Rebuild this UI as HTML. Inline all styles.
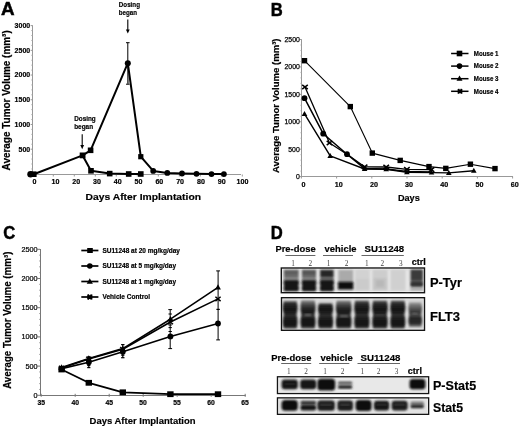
<!DOCTYPE html>
<html><head><meta charset="utf-8"><style>
html,body{margin:0;padding:0;background:#fff;}
svg{display:block;filter:grayscale(100%);}
text{font-family:"Liberation Sans",sans-serif;}
</style></head><body>
<svg width="520" height="428" viewBox="0 0 520 428">
<rect width="520" height="428" fill="#fff"/>
<text x="1.00" y="15.40" font-size="18.8" font-weight="bold" text-anchor="start" fill="#000" textLength="13.60" lengthAdjust="spacingAndGlyphs" stroke="#000" stroke-width="0.5">A</text>
<line x1="32.50" y1="25.20" x2="32.50" y2="175.00" stroke="#999" stroke-width="1" />
<line x1="31.20" y1="168.96" x2="32.50" y2="168.96" stroke="#aaa" stroke-width="0.8" />
<line x1="31.20" y1="164.01" x2="32.50" y2="164.01" stroke="#aaa" stroke-width="0.8" />
<line x1="31.20" y1="159.07" x2="32.50" y2="159.07" stroke="#aaa" stroke-width="0.8" />
<line x1="31.20" y1="154.13" x2="32.50" y2="154.13" stroke="#aaa" stroke-width="0.8" />
<line x1="31.20" y1="144.24" x2="32.50" y2="144.24" stroke="#aaa" stroke-width="0.8" />
<line x1="31.20" y1="139.30" x2="32.50" y2="139.30" stroke="#aaa" stroke-width="0.8" />
<line x1="31.20" y1="134.36" x2="32.50" y2="134.36" stroke="#aaa" stroke-width="0.8" />
<line x1="31.20" y1="129.41" x2="32.50" y2="129.41" stroke="#aaa" stroke-width="0.8" />
<line x1="31.20" y1="119.53" x2="32.50" y2="119.53" stroke="#aaa" stroke-width="0.8" />
<line x1="31.20" y1="114.58" x2="32.50" y2="114.58" stroke="#aaa" stroke-width="0.8" />
<line x1="31.20" y1="109.64" x2="32.50" y2="109.64" stroke="#aaa" stroke-width="0.8" />
<line x1="31.20" y1="104.70" x2="32.50" y2="104.70" stroke="#aaa" stroke-width="0.8" />
<line x1="31.20" y1="94.81" x2="32.50" y2="94.81" stroke="#aaa" stroke-width="0.8" />
<line x1="31.20" y1="89.87" x2="32.50" y2="89.87" stroke="#aaa" stroke-width="0.8" />
<line x1="31.20" y1="84.93" x2="32.50" y2="84.93" stroke="#aaa" stroke-width="0.8" />
<line x1="31.20" y1="79.98" x2="32.50" y2="79.98" stroke="#aaa" stroke-width="0.8" />
<line x1="31.20" y1="70.10" x2="32.50" y2="70.10" stroke="#aaa" stroke-width="0.8" />
<line x1="31.20" y1="65.15" x2="32.50" y2="65.15" stroke="#aaa" stroke-width="0.8" />
<line x1="31.20" y1="60.21" x2="32.50" y2="60.21" stroke="#aaa" stroke-width="0.8" />
<line x1="31.20" y1="55.27" x2="32.50" y2="55.27" stroke="#aaa" stroke-width="0.8" />
<line x1="31.20" y1="45.38" x2="32.50" y2="45.38" stroke="#aaa" stroke-width="0.8" />
<line x1="31.20" y1="40.44" x2="32.50" y2="40.44" stroke="#aaa" stroke-width="0.8" />
<line x1="31.20" y1="35.50" x2="32.50" y2="35.50" stroke="#aaa" stroke-width="0.8" />
<line x1="31.20" y1="30.55" x2="32.50" y2="30.55" stroke="#aaa" stroke-width="0.8" />
<line x1="30.60" y1="25.61" x2="32.50" y2="25.61" stroke="#999" stroke-width="1" />
<text x="30.20" y="28.01" font-size="7" font-weight="bold" text-anchor="end" fill="#000"  stroke="#000" stroke-width="0.18">3000</text>
<line x1="30.60" y1="50.33" x2="32.50" y2="50.33" stroke="#999" stroke-width="1" />
<text x="30.20" y="52.73" font-size="7" font-weight="bold" text-anchor="end" fill="#000"  stroke="#000" stroke-width="0.18">2500</text>
<line x1="30.60" y1="75.04" x2="32.50" y2="75.04" stroke="#999" stroke-width="1" />
<text x="30.20" y="77.44" font-size="7" font-weight="bold" text-anchor="end" fill="#000"  stroke="#000" stroke-width="0.18">2000</text>
<line x1="30.60" y1="99.76" x2="32.50" y2="99.76" stroke="#999" stroke-width="1" />
<text x="30.20" y="102.16" font-size="7" font-weight="bold" text-anchor="end" fill="#000"  stroke="#000" stroke-width="0.18">1500</text>
<line x1="30.60" y1="124.47" x2="32.50" y2="124.47" stroke="#999" stroke-width="1" />
<text x="30.20" y="126.87" font-size="7" font-weight="bold" text-anchor="end" fill="#000"  stroke="#000" stroke-width="0.18">1000</text>
<line x1="30.60" y1="149.19" x2="32.50" y2="149.19" stroke="#999" stroke-width="1" />
<text x="30.20" y="151.59" font-size="7" font-weight="bold" text-anchor="end" fill="#000"  stroke="#000" stroke-width="0.18">500</text>
<line x1="32.50" y1="174.50" x2="241.00" y2="174.50" stroke="#999" stroke-width="1" />
<line x1="32.30" y1="174.50" x2="32.30" y2="176.50" stroke="#999" stroke-width="1" />
<text x="34.60" y="184.10" font-size="7.1" font-weight="bold" text-anchor="middle" fill="#000"  stroke="#000" stroke-width="0.18">0</text>
<line x1="53.30" y1="174.50" x2="53.30" y2="176.50" stroke="#999" stroke-width="1" />
<text x="55.39" y="184.10" font-size="7.1" font-weight="bold" text-anchor="middle" fill="#000"  stroke="#000" stroke-width="0.18">10</text>
<line x1="74.30" y1="174.50" x2="74.30" y2="176.50" stroke="#999" stroke-width="1" />
<text x="76.18" y="184.10" font-size="7.1" font-weight="bold" text-anchor="middle" fill="#000"  stroke="#000" stroke-width="0.18">20</text>
<line x1="95.30" y1="174.50" x2="95.30" y2="176.50" stroke="#999" stroke-width="1" />
<text x="96.97" y="184.10" font-size="7.1" font-weight="bold" text-anchor="middle" fill="#000"  stroke="#000" stroke-width="0.18">30</text>
<line x1="116.30" y1="174.50" x2="116.30" y2="176.50" stroke="#999" stroke-width="1" />
<text x="117.76" y="184.10" font-size="7.1" font-weight="bold" text-anchor="middle" fill="#000"  stroke="#000" stroke-width="0.18">40</text>
<line x1="137.30" y1="174.50" x2="137.30" y2="176.50" stroke="#999" stroke-width="1" />
<text x="138.55" y="184.10" font-size="7.1" font-weight="bold" text-anchor="middle" fill="#000"  stroke="#000" stroke-width="0.18">50</text>
<line x1="158.30" y1="174.50" x2="158.30" y2="176.50" stroke="#999" stroke-width="1" />
<text x="159.34" y="184.10" font-size="7.1" font-weight="bold" text-anchor="middle" fill="#000"  stroke="#000" stroke-width="0.18">60</text>
<line x1="179.30" y1="174.50" x2="179.30" y2="176.50" stroke="#999" stroke-width="1" />
<text x="180.13" y="184.10" font-size="7.1" font-weight="bold" text-anchor="middle" fill="#000"  stroke="#000" stroke-width="0.18">70</text>
<line x1="200.30" y1="174.50" x2="200.30" y2="176.50" stroke="#999" stroke-width="1" />
<text x="200.92" y="184.10" font-size="7.1" font-weight="bold" text-anchor="middle" fill="#000"  stroke="#000" stroke-width="0.18">80</text>
<line x1="221.30" y1="174.50" x2="221.30" y2="176.50" stroke="#999" stroke-width="1" />
<text x="221.71" y="184.10" font-size="7.1" font-weight="bold" text-anchor="middle" fill="#000"  stroke="#000" stroke-width="0.18">90</text>
<line x1="242.30" y1="174.50" x2="242.30" y2="176.50" stroke="#999" stroke-width="1" />
<text x="242.50" y="184.10" font-size="7.1" font-weight="bold" text-anchor="middle" fill="#000"  stroke="#000" stroke-width="0.18">100</text>
<text x="85.60" y="200.00" font-size="9.7" font-weight="bold" text-anchor="start" fill="#000" textLength="115.40" lengthAdjust="spacingAndGlyphs"  stroke="#000" stroke-width="0.18">Days After Implantation</text>
<text x="0" y="0" font-size="10.3" font-weight="bold" stroke="#000" stroke-width="0.2" text-anchor="middle" textLength="140.10" lengthAdjust="spacingAndGlyphs" transform="translate(9.60,100.35) rotate(-90)">Average Tumor Volume (mm³)</text>
<text x="118.80" y="6.80" font-size="6.8" font-weight="bold" text-anchor="start" fill="#000" textLength="21.20" lengthAdjust="spacingAndGlyphs"  stroke="#000" stroke-width="0.18">Dosing</text>
<text x="118.80" y="14.60" font-size="6.8" font-weight="bold" text-anchor="start" fill="#000" textLength="18.20" lengthAdjust="spacingAndGlyphs"  stroke="#000" stroke-width="0.18">began</text>
<line x1="127.80" y1="19.50" x2="127.80" y2="31.00" stroke="#000" stroke-width="1.1" />
<polygon points="125.9,29.5 129.7,29.5 127.8,33.5" fill="#000"/>
<text x="74.20" y="121.20" font-size="6.8" font-weight="bold" text-anchor="start" fill="#000" textLength="21.50" lengthAdjust="spacingAndGlyphs"  stroke="#000" stroke-width="0.18">Dosing</text>
<text x="74.20" y="129.20" font-size="6.8" font-weight="bold" text-anchor="start" fill="#000" textLength="18.90" lengthAdjust="spacingAndGlyphs"  stroke="#000" stroke-width="0.18">began</text>
<line x1="82.20" y1="134.30" x2="82.20" y2="146.00" stroke="#000" stroke-width="1.1" />
<polygon points="80.3,145 84.1,145 82.2,149.2" fill="#000"/>
<line x1="127.80" y1="42.70" x2="127.80" y2="84.20" stroke="#000" stroke-width="1" />
<line x1="126.00" y1="42.70" x2="129.60" y2="42.70" stroke="#000" stroke-width="1" />
<line x1="126.00" y1="84.20" x2="129.60" y2="84.20" stroke="#000" stroke-width="1" />
<line x1="127.80" y1="63.00" x2="127.80" y2="84.20" stroke="#555" stroke-width="1.6" />
<polyline points="33.80,174.20 82.60,155.40 91.00,170.80 109.70,173.60 128.70,174.00 140.80,174.00" fill="none" stroke="#000" stroke-width="2" stroke-linejoin="round"/>
<polyline points="82.60,155.40 90.60,150.30 127.80,63.20 140.80,156.70 153.20,170.90 167.30,172.90 182.00,173.50 196.50,173.80 211.50,174.10 223.90,174.10" fill="none" stroke="#000" stroke-width="2" stroke-linejoin="round"/>
<circle cx="30.50" cy="174.20" r="3.2" fill="#000"/>
<rect x="31.00" y="171.40" width="5.6" height="5.6" fill="#000"/>
<rect x="79.70" y="152.50" width="5.8" height="5.8" fill="#000"/>
<rect x="87.80" y="147.50" width="5.6" height="5.6" fill="#000"/>
<rect x="88.20" y="168.00" width="5.6" height="5.6" fill="#000"/>
<rect x="106.90" y="170.80" width="5.6" height="5.6" fill="#000"/>
<rect x="125.90" y="171.20" width="5.6" height="5.6" fill="#000"/>
<rect x="138.00" y="171.20" width="5.6" height="5.6" fill="#000"/>
<circle cx="127.80" cy="63.20" r="3.0" fill="#000"/>
<rect x="138.20" y="154.10" width="5.2" height="5.2" fill="#000"/>
<circle cx="153.20" cy="170.90" r="2.9" fill="#000"/>
<circle cx="167.30" cy="172.90" r="2.9" fill="#000"/>
<circle cx="182.00" cy="173.50" r="2.9" fill="#000"/>
<circle cx="196.50" cy="173.80" r="2.9" fill="#000"/>
<circle cx="211.50" cy="174.10" r="2.9" fill="#000"/>
<circle cx="223.90" cy="174.10" r="2.9" fill="#000"/>
<text x="270.80" y="15.65" font-size="18.8" font-weight="bold" text-anchor="start" fill="#000" textLength="12.00" lengthAdjust="spacingAndGlyphs" stroke="#000" stroke-width="0.5">B</text>
<line x1="301.50" y1="39.20" x2="301.50" y2="177.00" stroke="#999" stroke-width="1" />
<line x1="300.40" y1="171.12" x2="301.40" y2="171.12" stroke="#aaa" stroke-width="0.8" />
<line x1="300.40" y1="165.63" x2="301.40" y2="165.63" stroke="#aaa" stroke-width="0.8" />
<line x1="300.40" y1="160.15" x2="301.40" y2="160.15" stroke="#aaa" stroke-width="0.8" />
<line x1="300.40" y1="154.66" x2="301.40" y2="154.66" stroke="#aaa" stroke-width="0.8" />
<line x1="300.40" y1="143.70" x2="301.40" y2="143.70" stroke="#aaa" stroke-width="0.8" />
<line x1="300.40" y1="138.21" x2="301.40" y2="138.21" stroke="#aaa" stroke-width="0.8" />
<line x1="300.40" y1="132.73" x2="301.40" y2="132.73" stroke="#aaa" stroke-width="0.8" />
<line x1="300.40" y1="127.24" x2="301.40" y2="127.24" stroke="#aaa" stroke-width="0.8" />
<line x1="300.40" y1="116.28" x2="301.40" y2="116.28" stroke="#aaa" stroke-width="0.8" />
<line x1="300.40" y1="110.79" x2="301.40" y2="110.79" stroke="#aaa" stroke-width="0.8" />
<line x1="300.40" y1="105.31" x2="301.40" y2="105.31" stroke="#aaa" stroke-width="0.8" />
<line x1="300.40" y1="99.82" x2="301.40" y2="99.82" stroke="#aaa" stroke-width="0.8" />
<line x1="300.40" y1="88.86" x2="301.40" y2="88.86" stroke="#aaa" stroke-width="0.8" />
<line x1="300.40" y1="83.37" x2="301.40" y2="83.37" stroke="#aaa" stroke-width="0.8" />
<line x1="300.40" y1="77.89" x2="301.40" y2="77.89" stroke="#aaa" stroke-width="0.8" />
<line x1="300.40" y1="72.40" x2="301.40" y2="72.40" stroke="#aaa" stroke-width="0.8" />
<line x1="300.40" y1="61.44" x2="301.40" y2="61.44" stroke="#aaa" stroke-width="0.8" />
<line x1="300.40" y1="55.95" x2="301.40" y2="55.95" stroke="#aaa" stroke-width="0.8" />
<line x1="300.40" y1="50.47" x2="301.40" y2="50.47" stroke="#aaa" stroke-width="0.8" />
<line x1="300.40" y1="44.98" x2="301.40" y2="44.98" stroke="#aaa" stroke-width="0.8" />
<line x1="299.80" y1="39.50" x2="301.40" y2="39.50" stroke="#999" stroke-width="1" />
<text x="299.80" y="41.90" font-size="7" font-weight="normal" text-anchor="end" fill="#000" textLength="15.32" lengthAdjust="spacingAndGlyphs" stroke="#000" stroke-width="0.25">2500</text>
<line x1="299.80" y1="66.92" x2="301.40" y2="66.92" stroke="#999" stroke-width="1" />
<text x="299.80" y="69.32" font-size="7" font-weight="normal" text-anchor="end" fill="#000" textLength="15.32" lengthAdjust="spacingAndGlyphs" stroke="#000" stroke-width="0.25">2000</text>
<line x1="299.80" y1="94.34" x2="301.40" y2="94.34" stroke="#999" stroke-width="1" />
<text x="299.80" y="96.74" font-size="7" font-weight="normal" text-anchor="end" fill="#000" textLength="15.32" lengthAdjust="spacingAndGlyphs" stroke="#000" stroke-width="0.25">1500</text>
<line x1="299.80" y1="121.76" x2="301.40" y2="121.76" stroke="#999" stroke-width="1" />
<text x="299.80" y="124.16" font-size="7" font-weight="normal" text-anchor="end" fill="#000" textLength="15.32" lengthAdjust="spacingAndGlyphs" stroke="#000" stroke-width="0.25">1000</text>
<line x1="299.80" y1="149.18" x2="301.40" y2="149.18" stroke="#999" stroke-width="1" />
<text x="299.80" y="151.58" font-size="7" font-weight="normal" text-anchor="end" fill="#000" textLength="11.49" lengthAdjust="spacingAndGlyphs" stroke="#000" stroke-width="0.25">500</text>
<line x1="299.80" y1="176.60" x2="301.40" y2="176.60" stroke="#999" stroke-width="1" />
<text x="299.80" y="179.00" font-size="7" font-weight="normal" text-anchor="end" fill="#000" textLength="3.83" lengthAdjust="spacingAndGlyphs" stroke="#000" stroke-width="0.25">0</text>
<line x1="301.50" y1="176.50" x2="513.00" y2="176.50" stroke="#999" stroke-width="1" />
<line x1="301.40" y1="176.50" x2="301.40" y2="178.50" stroke="#999" stroke-width="1" />
<text x="303.50" y="186.90" font-size="7.2" font-weight="bold" text-anchor="middle" fill="#000"  stroke="#000" stroke-width="0.18">0</text>
<line x1="336.60" y1="176.50" x2="336.60" y2="178.50" stroke="#999" stroke-width="1" />
<text x="338.70" y="186.90" font-size="7.2" font-weight="bold" text-anchor="middle" fill="#000"  stroke="#000" stroke-width="0.18">10</text>
<line x1="371.80" y1="176.50" x2="371.80" y2="178.50" stroke="#999" stroke-width="1" />
<text x="373.90" y="186.90" font-size="7.2" font-weight="bold" text-anchor="middle" fill="#000"  stroke="#000" stroke-width="0.18">20</text>
<line x1="407.00" y1="176.50" x2="407.00" y2="178.50" stroke="#999" stroke-width="1" />
<text x="409.10" y="186.90" font-size="7.2" font-weight="bold" text-anchor="middle" fill="#000"  stroke="#000" stroke-width="0.18">30</text>
<line x1="442.20" y1="176.50" x2="442.20" y2="178.50" stroke="#999" stroke-width="1" />
<text x="444.30" y="186.90" font-size="7.2" font-weight="bold" text-anchor="middle" fill="#000"  stroke="#000" stroke-width="0.18">40</text>
<line x1="477.40" y1="176.50" x2="477.40" y2="178.50" stroke="#999" stroke-width="1" />
<text x="479.50" y="186.90" font-size="7.2" font-weight="bold" text-anchor="middle" fill="#000"  stroke="#000" stroke-width="0.18">50</text>
<line x1="512.60" y1="176.50" x2="512.60" y2="178.50" stroke="#999" stroke-width="1" />
<text x="514.70" y="186.90" font-size="7.2" font-weight="bold" text-anchor="middle" fill="#000"  stroke="#000" stroke-width="0.18">60</text>
<text x="397.90" y="200.70" font-size="9.7" font-weight="bold" text-anchor="start" fill="#000" textLength="21.90" lengthAdjust="spacingAndGlyphs"  stroke="#000" stroke-width="0.18">Days</text>
<text x="0" y="0" font-size="9.4" font-weight="bold" stroke="#000" stroke-width="0.2" text-anchor="middle" textLength="134.50" lengthAdjust="spacingAndGlyphs" transform="translate(278.50,105.75) rotate(-90)">Average Tumor Volume (mm³)</text>
<polyline points="304.50,60.70 350.30,106.60 372.30,153.10 400.20,160.40 429.00,166.60 445.80,168.40 470.40,164.20 495.00,168.60" fill="none" stroke="#000" stroke-width="1.1" stroke-linejoin="round"/>
<polyline points="304.50,98.20 323.20,133.70 347.00,154.20 364.60,168.60 386.20,168.90 406.90,171.60 431.50,171.90" fill="none" stroke="#000" stroke-width="1.5" stroke-linejoin="round"/>
<polyline points="304.50,113.90 330.20,155.90 364.60,169.00 386.20,169.30 406.90,172.20 431.50,172.60 448.80,172.90 473.80,170.70" fill="none" stroke="#000" stroke-width="1.4" stroke-linejoin="round"/>
<polyline points="305.00,87.00 329.50,143.00 347.00,154.20 364.60,166.90 386.20,167.00 406.90,169.40 431.50,169.60" fill="none" stroke="#000" stroke-width="1.3" stroke-linejoin="round"/>
<rect x="301.80" y="58.00" width="5.4" height="5.4" fill="#000"/>
<rect x="347.60" y="103.90" width="5.4" height="5.4" fill="#000"/>
<rect x="369.60" y="150.40" width="5.4" height="5.4" fill="#000"/>
<rect x="397.50" y="157.70" width="5.4" height="5.4" fill="#000"/>
<rect x="426.30" y="163.90" width="5.4" height="5.4" fill="#000"/>
<rect x="443.10" y="165.70" width="5.4" height="5.4" fill="#000"/>
<rect x="467.70" y="161.50" width="5.4" height="5.4" fill="#000"/>
<rect x="492.30" y="165.90" width="5.4" height="5.4" fill="#000"/>
<circle cx="304.50" cy="98.20" r="2.9" fill="#000"/>
<circle cx="323.20" cy="133.70" r="2.9" fill="#000"/>
<circle cx="347.00" cy="154.20" r="2.9" fill="#000"/>
<polygon points="304.50,110.88 307.30,115.92 301.70,115.92" fill="#000"/>
<polygon points="330.20,152.88 333.00,157.92 327.40,157.92" fill="#000"/>
<polygon points="364.60,165.98 367.40,171.02 361.80,171.02" fill="#000"/>
<polygon points="386.20,166.28 389.00,171.32 383.40,171.32" fill="#000"/>
<polygon points="406.90,169.18 409.70,174.22 404.10,174.22" fill="#000"/>
<polygon points="431.50,169.58 434.30,174.62 428.70,174.62" fill="#000"/>
<polygon points="448.80,169.88 451.60,174.92 446.00,174.92" fill="#000"/>
<polygon points="473.80,167.68 476.60,172.72 471.00,172.72" fill="#000"/>
<path d="M302.20,84.80L307.80,89.20M307.80,84.80L302.20,89.20" stroke="#000" stroke-width="1.5"/>
<path d="M326.70,140.80L332.30,145.20M332.30,140.80L326.70,145.20" stroke="#000" stroke-width="1.5"/>
<path d="M361.80,164.70L367.40,169.10M367.40,164.70L361.80,169.10" stroke="#000" stroke-width="1.5"/>
<path d="M383.40,164.80L389.00,169.20M389.00,164.80L383.40,169.20" stroke="#000" stroke-width="1.5"/>
<path d="M404.10,167.20L409.70,171.60M409.70,167.20L404.10,171.60" stroke="#000" stroke-width="1.5"/>
<path d="M428.70,167.40L434.30,171.80M434.30,167.40L428.70,171.80" stroke="#000" stroke-width="1.5"/>
<line x1="451.10" y1="53.50" x2="468.50" y2="53.50" stroke="#000" stroke-width="1.5" />
<rect x="456.70" y="50.70" width="5.6" height="5.6" fill="#000"/>
<text x="473.80" y="55.80" font-size="6.4" font-weight="bold" text-anchor="start" fill="#000" textLength="24.70" lengthAdjust="spacingAndGlyphs"  stroke="#000" stroke-width="0.18">Mouse 1</text>
<line x1="451.10" y1="66.10" x2="468.50" y2="66.10" stroke="#000" stroke-width="1.5" />
<circle cx="459.50" cy="66.10" r="2.8" fill="#000"/>
<text x="473.80" y="68.40" font-size="6.4" font-weight="bold" text-anchor="start" fill="#000" textLength="24.70" lengthAdjust="spacingAndGlyphs"  stroke="#000" stroke-width="0.18">Mouse 2</text>
<line x1="451.10" y1="78.70" x2="468.50" y2="78.70" stroke="#000" stroke-width="1.5" />
<polygon points="459.50,75.46 462.50,80.86 456.50,80.86" fill="#000"/>
<text x="473.80" y="81.00" font-size="6.4" font-weight="bold" text-anchor="start" fill="#000" textLength="24.70" lengthAdjust="spacingAndGlyphs"  stroke="#000" stroke-width="0.18">Mouse 3</text>
<line x1="451.10" y1="91.30" x2="468.50" y2="91.30" stroke="#000" stroke-width="1.5" />
<path d="M458.40,88.90L461.60,93.70M461.60,88.90L458.40,93.70M458.40,88.90V93.70M461.60,88.90V93.70" stroke="#000" stroke-width="1.5"/>
<text x="473.80" y="93.60" font-size="6.4" font-weight="bold" text-anchor="start" fill="#000" textLength="24.70" lengthAdjust="spacingAndGlyphs"  stroke="#000" stroke-width="0.18">Mouse 4</text>
<text x="3.20" y="238.90" font-size="18.8" font-weight="bold" text-anchor="start" fill="#000" textLength="12.00" lengthAdjust="spacingAndGlyphs" stroke="#000" stroke-width="0.5">C</text>
<line x1="40.50" y1="249.00" x2="40.50" y2="396.00" stroke="#777" stroke-width="1" />
<line x1="39.00" y1="389.46" x2="40.10" y2="389.46" stroke="#999" stroke-width="0.8" />
<line x1="39.00" y1="383.62" x2="40.10" y2="383.62" stroke="#999" stroke-width="0.8" />
<line x1="39.00" y1="377.78" x2="40.10" y2="377.78" stroke="#999" stroke-width="0.8" />
<line x1="39.00" y1="371.94" x2="40.10" y2="371.94" stroke="#999" stroke-width="0.8" />
<line x1="39.00" y1="360.26" x2="40.10" y2="360.26" stroke="#999" stroke-width="0.8" />
<line x1="39.00" y1="354.42" x2="40.10" y2="354.42" stroke="#999" stroke-width="0.8" />
<line x1="39.00" y1="348.58" x2="40.10" y2="348.58" stroke="#999" stroke-width="0.8" />
<line x1="39.00" y1="342.74" x2="40.10" y2="342.74" stroke="#999" stroke-width="0.8" />
<line x1="39.00" y1="331.06" x2="40.10" y2="331.06" stroke="#999" stroke-width="0.8" />
<line x1="39.00" y1="325.22" x2="40.10" y2="325.22" stroke="#999" stroke-width="0.8" />
<line x1="39.00" y1="319.38" x2="40.10" y2="319.38" stroke="#999" stroke-width="0.8" />
<line x1="39.00" y1="313.54" x2="40.10" y2="313.54" stroke="#999" stroke-width="0.8" />
<line x1="39.00" y1="301.86" x2="40.10" y2="301.86" stroke="#999" stroke-width="0.8" />
<line x1="39.00" y1="296.02" x2="40.10" y2="296.02" stroke="#999" stroke-width="0.8" />
<line x1="39.00" y1="290.18" x2="40.10" y2="290.18" stroke="#999" stroke-width="0.8" />
<line x1="39.00" y1="284.34" x2="40.10" y2="284.34" stroke="#999" stroke-width="0.8" />
<line x1="39.00" y1="272.66" x2="40.10" y2="272.66" stroke="#999" stroke-width="0.8" />
<line x1="39.00" y1="266.82" x2="40.10" y2="266.82" stroke="#999" stroke-width="0.8" />
<line x1="39.00" y1="260.98" x2="40.10" y2="260.98" stroke="#999" stroke-width="0.8" />
<line x1="39.00" y1="255.14" x2="40.10" y2="255.14" stroke="#999" stroke-width="0.8" />
<line x1="37.60" y1="249.30" x2="40.10" y2="249.30" stroke="#777" stroke-width="1" />
<text x="37.60" y="251.70" font-size="7" font-weight="normal" text-anchor="end" fill="#000" textLength="16.20" lengthAdjust="spacingAndGlyphs" stroke="#000" stroke-width="0.2">2500</text>
<line x1="37.60" y1="278.50" x2="40.10" y2="278.50" stroke="#777" stroke-width="1" />
<text x="37.60" y="280.90" font-size="7" font-weight="normal" text-anchor="end" fill="#000" textLength="16.20" lengthAdjust="spacingAndGlyphs" stroke="#000" stroke-width="0.2">2000</text>
<line x1="37.60" y1="307.70" x2="40.10" y2="307.70" stroke="#777" stroke-width="1" />
<text x="37.60" y="310.10" font-size="7" font-weight="normal" text-anchor="end" fill="#000" textLength="16.20" lengthAdjust="spacingAndGlyphs" stroke="#000" stroke-width="0.2">1500</text>
<line x1="37.60" y1="336.90" x2="40.10" y2="336.90" stroke="#777" stroke-width="1" />
<text x="37.60" y="339.30" font-size="7" font-weight="normal" text-anchor="end" fill="#000" textLength="16.20" lengthAdjust="spacingAndGlyphs" stroke="#000" stroke-width="0.2">1000</text>
<line x1="37.60" y1="366.10" x2="40.10" y2="366.10" stroke="#777" stroke-width="1" />
<text x="37.60" y="368.50" font-size="7" font-weight="normal" text-anchor="end" fill="#000" textLength="12.15" lengthAdjust="spacingAndGlyphs" stroke="#000" stroke-width="0.2">500</text>
<line x1="37.60" y1="395.30" x2="40.10" y2="395.30" stroke="#777" stroke-width="1" />
<text x="37.60" y="397.70" font-size="7" font-weight="normal" text-anchor="end" fill="#000" textLength="4.05" lengthAdjust="spacingAndGlyphs" stroke="#000" stroke-width="0.2">0</text>
<line x1="40.50" y1="395.50" x2="245.70" y2="395.50" stroke="#777" stroke-width="1" />
<line x1="41.20" y1="393.80" x2="41.20" y2="396.80" stroke="#777" stroke-width="1" />
<text x="41.25" y="405.20" font-size="6.8" font-weight="bold" text-anchor="middle" fill="#000"  stroke="#000" stroke-width="0.18">35</text>
<line x1="75.20" y1="393.80" x2="75.20" y2="396.80" stroke="#777" stroke-width="1" />
<text x="75.21" y="405.20" font-size="6.8" font-weight="bold" text-anchor="middle" fill="#000"  stroke="#000" stroke-width="0.18">40</text>
<line x1="109.20" y1="393.80" x2="109.20" y2="396.80" stroke="#777" stroke-width="1" />
<text x="109.17" y="405.20" font-size="6.8" font-weight="bold" text-anchor="middle" fill="#000"  stroke="#000" stroke-width="0.18">45</text>
<line x1="143.20" y1="393.80" x2="143.20" y2="396.80" stroke="#777" stroke-width="1" />
<text x="143.13" y="405.20" font-size="6.8" font-weight="bold" text-anchor="middle" fill="#000"  stroke="#000" stroke-width="0.18">50</text>
<line x1="177.20" y1="393.80" x2="177.20" y2="396.80" stroke="#777" stroke-width="1" />
<text x="177.09" y="405.20" font-size="6.8" font-weight="bold" text-anchor="middle" fill="#000"  stroke="#000" stroke-width="0.18">55</text>
<line x1="211.20" y1="393.80" x2="211.20" y2="396.80" stroke="#777" stroke-width="1" />
<text x="211.05" y="405.20" font-size="6.8" font-weight="bold" text-anchor="middle" fill="#000"  stroke="#000" stroke-width="0.18">60</text>
<line x1="245.20" y1="393.80" x2="245.20" y2="396.80" stroke="#777" stroke-width="1" />
<text x="245.01" y="405.20" font-size="6.8" font-weight="bold" text-anchor="middle" fill="#000"  stroke="#000" stroke-width="0.18">65</text>
<text x="89.60" y="424.00" font-size="9.9" font-weight="bold" text-anchor="start" fill="#000" textLength="106.00" lengthAdjust="spacingAndGlyphs"  stroke="#000" stroke-width="0.18">Days After Implantation</text>
<text x="0" y="0" font-size="10.0" font-weight="bold" stroke="#000" stroke-width="0.2" text-anchor="middle" textLength="137.20" lengthAdjust="spacingAndGlyphs" transform="translate(11.00,320.20) rotate(-90)">Average Tumor Volume (mm³)</text>
<line x1="170.20" y1="309.60" x2="170.20" y2="348.60" stroke="#000" stroke-width="1" />
<line x1="168.30" y1="309.60" x2="172.10" y2="309.60" stroke="#000" stroke-width="1" />
<line x1="168.30" y1="348.60" x2="172.10" y2="348.60" stroke="#000" stroke-width="1" />
<line x1="218.10" y1="270.90" x2="218.10" y2="339.90" stroke="#000" stroke-width="1" />
<line x1="216.20" y1="270.90" x2="220.00" y2="270.90" stroke="#000" stroke-width="1" />
<line x1="216.20" y1="339.90" x2="220.00" y2="339.90" stroke="#000" stroke-width="1" />
<line x1="122.80" y1="344.60" x2="122.80" y2="357.70" stroke="#000" stroke-width="1.2" />
<line x1="121.10" y1="344.60" x2="124.50" y2="344.60" stroke="#000" stroke-width="1.2" />
<line x1="121.10" y1="357.70" x2="124.50" y2="357.70" stroke="#000" stroke-width="1.2" />
<line x1="88.80" y1="356.80" x2="88.80" y2="367.60" stroke="#000" stroke-width="1.2" />
<line x1="87.20" y1="356.80" x2="90.40" y2="356.80" stroke="#000" stroke-width="1.2" />
<line x1="87.20" y1="367.60" x2="90.40" y2="367.60" stroke="#000" stroke-width="1.2" />
<line x1="168.50" y1="314.00" x2="171.90" y2="314.00" stroke="#000" stroke-width="1" />
<line x1="168.50" y1="325.00" x2="171.90" y2="325.00" stroke="#000" stroke-width="1" />
<line x1="168.50" y1="327.60" x2="171.90" y2="327.60" stroke="#000" stroke-width="1" />
<line x1="168.50" y1="331.50" x2="171.90" y2="331.50" stroke="#000" stroke-width="1" />
<line x1="216.40" y1="309.40" x2="219.80" y2="309.40" stroke="#000" stroke-width="1.2" />
<line x1="121.20" y1="355.20" x2="124.40" y2="355.20" stroke="#000" stroke-width="1.2" />
<line x1="87.20" y1="365.50" x2="90.40" y2="365.50" stroke="#000" stroke-width="1.2" />
<polyline points="61.60,369.50 88.80,382.80 122.80,392.30 170.40,394.20 218.00,394.20" fill="none" stroke="#000" stroke-width="1.8" stroke-linejoin="round"/>
<polyline points="61.60,368.60 88.80,362.30 122.80,351.80 170.40,336.40 218.00,323.50" fill="none" stroke="#000" stroke-width="1.6" stroke-linejoin="round"/>
<polyline points="61.60,367.40 88.80,358.40 122.80,348.60 170.40,319.20 218.00,287.30" fill="none" stroke="#000" stroke-width="1.6" stroke-linejoin="round"/>
<polyline points="61.60,367.90 88.80,359.00 122.80,349.30 170.40,322.00 218.00,298.90" fill="none" stroke="#000" stroke-width="1.6" stroke-linejoin="round"/>
<rect x="58.40" y="366.60" width="6.4" height="5.8" fill="#000"/>
<rect x="85.60" y="379.90" width="6.4" height="5.8" fill="#000"/>
<rect x="119.60" y="389.40" width="6.4" height="5.8" fill="#000"/>
<rect x="167.20" y="391.30" width="6.4" height="5.8" fill="#000"/>
<rect x="214.80" y="391.30" width="6.4" height="5.8" fill="#000"/>
<circle cx="61.60" cy="368.60" r="2.9" fill="#000"/>
<circle cx="88.80" cy="362.30" r="2.9" fill="#000"/>
<circle cx="122.80" cy="351.80" r="2.9" fill="#000"/>
<circle cx="170.40" cy="336.40" r="2.9" fill="#000"/>
<circle cx="218.00" cy="323.50" r="2.9" fill="#000"/>
<polygon points="61.60,364.27 64.50,369.49 58.70,369.49" fill="#000"/>
<polygon points="88.80,355.27 91.70,360.49 85.90,360.49" fill="#000"/>
<polygon points="122.80,345.47 125.70,350.69 119.90,350.69" fill="#000"/>
<polygon points="170.40,316.07 173.30,321.29 167.50,321.29" fill="#000"/>
<polygon points="218.00,284.17 220.90,289.39 215.10,289.39" fill="#000"/>
<path d="M59.00,365.70L64.20,370.10M64.20,365.70L59.00,370.10" stroke="#000" stroke-width="1.5"/>
<path d="M86.20,356.80L91.40,361.20M91.40,356.80L86.20,361.20" stroke="#000" stroke-width="1.5"/>
<path d="M120.20,347.10L125.40,351.50M125.40,347.10L120.20,351.50" stroke="#000" stroke-width="1.5"/>
<path d="M167.80,319.80L173.00,324.20M173.00,319.80L167.80,324.20" stroke="#000" stroke-width="1.5"/>
<path d="M215.40,296.70L220.60,301.10M220.60,296.70L215.40,301.10" stroke="#000" stroke-width="1.5"/>
<line x1="81.30" y1="250.50" x2="98.40" y2="250.50" stroke="#000" stroke-width="1.7" />
<rect x="87.2" y="248.00" width="5.6" height="5" fill="#000"/>
<text x="102.50" y="252.90" font-size="6.6" font-weight="bold" text-anchor="start" fill="#000" textLength="77.50" lengthAdjust="spacingAndGlyphs"  stroke="#000" stroke-width="0.18">SU11248 at 20 mg/kg/day</text>
<line x1="81.30" y1="266.00" x2="98.40" y2="266.00" stroke="#000" stroke-width="1.7" />
<circle cx="89.80" cy="266.00" r="2.8" fill="#000"/>
<text x="102.50" y="268.40" font-size="6.6" font-weight="bold" text-anchor="start" fill="#000" textLength="73.50" lengthAdjust="spacingAndGlyphs"  stroke="#000" stroke-width="0.18">SU11248 at 5 mg/kg/day</text>
<line x1="81.30" y1="281.50" x2="98.40" y2="281.50" stroke="#000" stroke-width="1.7" />
<polygon points="89.80,278.15 92.90,283.73 86.70,283.73" fill="#000"/>
<text x="102.50" y="283.90" font-size="6.6" font-weight="bold" text-anchor="start" fill="#000" textLength="73.50" lengthAdjust="spacingAndGlyphs"  stroke="#000" stroke-width="0.18">SU11248 at 1 mg/kg/day</text>
<line x1="81.30" y1="297.00" x2="98.40" y2="297.00" stroke="#000" stroke-width="1.7" />
<path d="M88.00,294.50L91.60,299.50M91.60,294.50L88.00,299.50M88.00,294.50V299.50M91.60,294.50V299.50" stroke="#000" stroke-width="1.6"/>
<text x="102.50" y="299.40" font-size="6.6" font-weight="bold" text-anchor="start" fill="#000" textLength="47.50" lengthAdjust="spacingAndGlyphs"  stroke="#000" stroke-width="0.18">Vehicle Control</text>
<text x="270.80" y="238.60" font-size="18.8" font-weight="bold" text-anchor="start" fill="#000" textLength="12.00" lengthAdjust="spacingAndGlyphs" stroke="#000" stroke-width="0.5">D</text>
<text x="275.40" y="252.30" font-size="9.5" font-weight="bold" text-anchor="start" fill="#000" textLength="40.30" lengthAdjust="spacingAndGlyphs"  stroke="#000" stroke-width="0.18">Pre-dose</text>
<line x1="285.40" y1="255.50" x2="315.40" y2="255.50" stroke="#666" stroke-width="1" />
<text x="324.60" y="252.30" font-size="9.5" font-weight="bold" text-anchor="start" fill="#000" textLength="31.90" lengthAdjust="spacingAndGlyphs"  stroke="#000" stroke-width="0.18">vehicle</text>
<line x1="323.00" y1="255.50" x2="353.00" y2="255.50" stroke="#666" stroke-width="1" />
<text x="364.60" y="252.30" font-size="9.5" font-weight="bold" text-anchor="start" fill="#000" textLength="39.60" lengthAdjust="spacingAndGlyphs"  stroke="#000" stroke-width="0.18">SU11248</text>
<line x1="361.50" y1="255.50" x2="403.80" y2="255.50" stroke="#666" stroke-width="1" />
<text x="293.00" y="265.50" font-size="7.3" style="font-family:'Liberation Serif',serif" text-anchor="middle" fill="#444">1</text>
<text x="310.30" y="265.50" font-size="7.3" style="font-family:'Liberation Serif',serif" text-anchor="middle" fill="#444">2</text>
<text x="328.50" y="265.50" font-size="7.3" style="font-family:'Liberation Serif',serif" text-anchor="middle" fill="#444">1</text>
<text x="346.50" y="265.50" font-size="7.3" style="font-family:'Liberation Serif',serif" text-anchor="middle" fill="#444">2</text>
<text x="366.90" y="265.50" font-size="7.3" style="font-family:'Liberation Serif',serif" text-anchor="middle" fill="#444">1</text>
<text x="382.30" y="265.50" font-size="7.3" style="font-family:'Liberation Serif',serif" text-anchor="middle" fill="#444">2</text>
<text x="400.80" y="265.50" font-size="7.3" style="font-family:'Liberation Serif',serif" text-anchor="middle" fill="#444">3</text>
<text x="411.70" y="264.60" font-size="8.6" font-weight="bold" text-anchor="start" fill="#000" textLength="14.20" lengthAdjust="spacingAndGlyphs"  stroke="#000" stroke-width="0.18">ctrl</text>
<text x="271.20" y="361.10" font-size="9.5" font-weight="bold" text-anchor="start" fill="#000" textLength="40.30" lengthAdjust="spacingAndGlyphs"  stroke="#000" stroke-width="0.18">Pre-dose</text>
<line x1="281.20" y1="363.50" x2="311.20" y2="363.50" stroke="#666" stroke-width="1" />
<text x="320.40" y="361.10" font-size="9.5" font-weight="bold" text-anchor="start" fill="#000" textLength="32.40" lengthAdjust="spacingAndGlyphs"  stroke="#000" stroke-width="0.18">vehicle</text>
<line x1="319.20" y1="363.50" x2="349.30" y2="363.50" stroke="#666" stroke-width="1" />
<text x="360.60" y="361.10" font-size="9.5" font-weight="bold" text-anchor="start" fill="#000" textLength="39.80" lengthAdjust="spacingAndGlyphs"  stroke="#000" stroke-width="0.18">SU11248</text>
<line x1="357.50" y1="363.50" x2="400.00" y2="363.50" stroke="#666" stroke-width="1" />
<text x="288.80" y="374.30" font-size="7.3" style="font-family:'Liberation Serif',serif" text-anchor="middle" fill="#444">1</text>
<text x="306.20" y="374.30" font-size="7.3" style="font-family:'Liberation Serif',serif" text-anchor="middle" fill="#444">2</text>
<text x="325.00" y="374.30" font-size="7.3" style="font-family:'Liberation Serif',serif" text-anchor="middle" fill="#444">1</text>
<text x="342.70" y="374.30" font-size="7.3" style="font-family:'Liberation Serif',serif" text-anchor="middle" fill="#444">2</text>
<text x="362.30" y="374.30" font-size="7.3" style="font-family:'Liberation Serif',serif" text-anchor="middle" fill="#444">1</text>
<text x="378.70" y="374.30" font-size="7.3" style="font-family:'Liberation Serif',serif" text-anchor="middle" fill="#444">2</text>
<text x="396.60" y="374.30" font-size="7.3" style="font-family:'Liberation Serif',serif" text-anchor="middle" fill="#444">3</text>
<text x="407.80" y="373.50" font-size="8.6" font-weight="bold" text-anchor="start" fill="#000" textLength="14.10" lengthAdjust="spacingAndGlyphs"  stroke="#000" stroke-width="0.18">ctrl</text>
<defs><filter id="bl" x="-30%" y="-30%" width="160%" height="160%"><feGaussianBlur stdDeviation="0.8"/></filter><filter id="bl2" x="-30%" y="-30%" width="160%" height="160%"><feGaussianBlur stdDeviation="1.3"/></filter><filter id="bl3" x="-30%" y="-30%" width="160%" height="160%"><feGaussianBlur stdDeviation="0.85"/></filter></defs>
<rect x="280.60" y="267.30" width="144.60" height="26.10" fill="#151515"/>
<rect x="282.00" y="268.70" width="141.80" height="23.30" fill="#f2f2f2"/>
<rect x="282.90" y="269.50" width="140.00" height="21.70" fill="#dadada"/>
<g filter="url(#bl)">
<rect x="299" y="270" width="2.5" height="21" fill="#e6e6e6"/>
<rect x="316.5" y="270" width="3.0" height="21" fill="#e6e6e6"/>
<rect x="334" y="270" width="3.5" height="21" fill="#e6e6e6"/>
<rect x="353.5" y="270" width="1.5" height="21" fill="#e6e6e6"/>
<rect x="369.8" y="270" width="2.1999999999999886" height="21" fill="#e6e6e6"/>
<rect x="387.8" y="270" width="2.6999999999999886" height="21" fill="#e6e6e6"/>
<rect x="405.5" y="270" width="4.0" height="21" fill="#e6e6e6"/>
</g>
<g filter="url(#bl)">
<rect x="284.00" y="269.80" width="14.60" height="5.20" fill="#5e5e5e"/>
<rect x="284.00" y="275.00" width="14.60" height="3.50" fill="#6e6e6e"/>
<rect x="284.00" y="278.50" width="14.60" height="2.50" fill="#8e8e8e"/>
</g>
<path d="M284.40,280.00 L298.20,280.00 Q300.10,282.75 298.30,285.50 Q300.10,288.35 298.20,291.20 L284.40,291.20 Q282.50,288.35 284.30,285.50 Q282.50,282.75 284.40,280.00 Z" fill="#131313" filter="url(#bl)"/>
<g filter="url(#bl)">
<rect x="302.00" y="269.80" width="14.00" height="5.20" fill="#565656"/>
<rect x="302.00" y="275.00" width="14.00" height="3.50" fill="#6a6a6a"/>
<rect x="302.00" y="278.50" width="14.00" height="2.50" fill="#8a8a8a"/>
</g>
<path d="M302.50,280.00 L315.60,280.00 Q317.50,282.75 315.70,285.50 Q317.50,288.35 315.60,291.20 L302.50,291.20 Q300.60,288.35 302.40,285.50 Q300.60,282.75 302.50,280.00 Z" fill="#151515" filter="url(#bl)"/>
<g filter="url(#bl)">
<rect x="320.20" y="269.80" width="13.40" height="7.70" fill="#262626"/>
<rect x="320.20" y="277.50" width="13.40" height="3.00" fill="#6a6a6a"/>
</g>
<path d="M320.60,279.80 L333.20,279.80 Q335.10,282.65 333.30,285.50 Q335.10,288.35 333.20,291.20 L320.60,291.20 Q318.70,288.35 320.50,285.50 Q318.70,282.65 320.60,279.80 Z" fill="#171717" filter="url(#bl)"/>
<g filter="url(#bl2)">
<rect x="338.50" y="270.00" width="14.50" height="12.50" fill="#aaaaaa"/>
</g>
<path d="M338.60,281.80 L352.80,281.80 Q354.70,283.80 352.90,285.80 Q354.70,287.70 352.80,289.60 L338.60,289.60 Q336.70,287.70 338.50,285.80 Q336.70,283.80 338.60,281.80 Z" fill="#101010" filter="url(#bl)"/>
<g filter="url(#bl2)">
<rect x="355.50" y="270.00" width="13.80" height="9.00" fill="#d2d2d2"/>
<rect x="355.50" y="279.00" width="13.80" height="11.00" fill="#cbcbcb"/>
</g>
<g filter="url(#bl2)">
<rect x="373.00" y="270.00" width="14.20" height="8.00" fill="#cdcdcd"/>
<rect x="373.00" y="278.00" width="14.20" height="12.00" fill="#c4c4c4"/>
</g>
<g filter="url(#bl2)">
<rect x="391.00" y="270.00" width="14.00" height="20.00" fill="#d0d0d0"/>
</g>
<g filter="url(#bl2)">
<rect x="376.00" y="280.00" width="8.00" height="7.00" fill="#b8b8b8"/>
</g>
<g filter="url(#bl)">
<rect x="410.60" y="269.50" width="12.20" height="11.20" fill="#3a3a3a"/>
<rect x="410.60" y="280.70" width="12.20" height="5.90" fill="#4a4a4a"/>
<rect x="410.60" y="286.60" width="12.20" height="3.90" fill="#aaaaaa"/>
</g>
<g filter="url(#bl)">
<rect x="411.00" y="282.60" width="11.40" height="3.40" fill="#2e2e2e"/>
</g>
<text x="430.00" y="286.80" font-size="12.2" font-weight="bold" text-anchor="start" fill="#000" textLength="31.90" lengthAdjust="spacingAndGlyphs"  stroke="#000" stroke-width="0.18">P-Tyr</text>
<rect x="280.80" y="297.00" width="144.40" height="34.00" fill="#151515"/>
<rect x="282.20" y="298.40" width="141.60" height="31.20" fill="#f2f2f2"/>
<rect x="283.10" y="299.20" width="139.80" height="29.60" fill="#d6d6d6"/>
<g filter="url(#bl)">
<rect x="297.8" y="300" width="2.3999999999999773" height="28" fill="#e4e4e4"/>
<rect x="315.8" y="300" width="2.0" height="28" fill="#e4e4e4"/>
<rect x="333.6" y="300" width="2.1999999999999886" height="28" fill="#e4e4e4"/>
<rect x="352" y="300" width="2" height="28" fill="#e4e4e4"/>
<rect x="370" y="300" width="1.8000000000000114" height="28" fill="#e4e4e4"/>
<rect x="388.6" y="300" width="1.599999999999966" height="28" fill="#e4e4e4"/>
<rect x="405.6" y="300" width="2.1999999999999886" height="28" fill="#e4e4e4"/>
</g>
<defs><linearGradient id="gF" gradientUnits="userSpaceOnUse" x1="0" y1="300" x2="0" y2="329"><stop offset="0" stop-color="#5a5a5a"/><stop offset="0.14" stop-color="#262626"/><stop offset="0.3" stop-color="#161616"/><stop offset="0.46" stop-color="#1e1e1e"/><stop offset="0.53" stop-color="#333"/><stop offset="0.6" stop-color="#1c1c1c"/><stop offset="0.9" stop-color="#141414"/><stop offset="1" stop-color="#4a4a4a"/></linearGradient><linearGradient id="gF2" gradientUnits="userSpaceOnUse" x1="0" y1="300" x2="0" y2="329"><stop offset="0" stop-color="#888"/><stop offset="0.2" stop-color="#3a3a3a"/><stop offset="0.35" stop-color="#1a1a1a"/><stop offset="0.5" stop-color="#222"/><stop offset="0.55" stop-color="#3a3a3a"/><stop offset="0.62" stop-color="#1a1a1a"/><stop offset="0.9" stop-color="#161616"/><stop offset="1" stop-color="#555"/></linearGradient></defs>
<path d="M283.80,301.20 L296.60,301.20 Q298.60,307.85 296.50,314.50 Q298.60,321.55 296.60,328.60 L283.80,328.60 Q281.80,321.55 283.90,314.50 Q281.80,307.85 283.80,301.20 Z" fill="url(#gF)" filter="url(#bl)"/>
<path d="M301.40,300.60 L314.60,300.60 Q316.60,307.55 314.50,314.50 Q316.60,321.55 314.60,328.60 L301.40,328.60 Q299.40,321.55 301.50,314.50 Q299.40,307.55 301.40,300.60 Z" fill="url(#gF2)" filter="url(#bl)"/>
<path d="M318.90,303.40 L332.20,303.40 Q334.20,308.95 332.10,314.50 Q334.20,321.55 332.20,328.60 L318.90,328.60 Q316.90,321.55 319.00,314.50 Q316.90,308.95 318.90,303.40 Z" fill="url(#gF)" filter="url(#bl)"/>
<path d="M336.80,300.80 L350.60,300.80 Q352.60,307.65 350.50,314.50 Q352.60,321.55 350.60,328.60 L336.80,328.60 Q334.80,321.55 336.90,314.50 Q334.80,307.65 336.80,300.80 Z" fill="url(#gF2)" filter="url(#bl)"/>
<path d="M355.20,300.80 L368.60,300.80 Q370.60,307.65 368.50,314.50 Q370.60,321.55 368.60,328.60 L355.20,328.60 Q353.20,321.55 355.30,314.50 Q353.20,307.65 355.20,300.80 Z" fill="url(#gF)" filter="url(#bl)"/>
<path d="M373.20,300.80 L386.80,300.80 Q388.80,307.65 386.70,314.50 Q388.80,321.55 386.80,328.60 L373.20,328.60 Q371.20,321.55 373.30,314.50 Q371.20,307.65 373.20,300.80 Z" fill="url(#gF)" filter="url(#bl)"/>
<path d="M391.20,300.80 L404.40,300.80 Q406.40,307.65 404.30,314.50 Q406.40,321.55 404.40,328.60 L391.20,328.60 Q389.20,321.55 391.30,314.50 Q389.20,307.65 391.20,300.80 Z" fill="url(#gF)" filter="url(#bl)"/>
<defs><linearGradient id="gC" gradientUnits="userSpaceOnUse" x1="0" y1="302" x2="0" y2="327"><stop offset="0" stop-color="#9a9a9a"/><stop offset="0.25" stop-color="#555"/><stop offset="0.45" stop-color="#2e2e2e"/><stop offset="0.52" stop-color="#555"/><stop offset="0.6" stop-color="#262626"/><stop offset="0.88" stop-color="#2a2a2a"/><stop offset="1" stop-color="#888"/></linearGradient></defs>
<path d="M409.20,302.50 L421.20,302.50 Q423.00,308.25 421.20,314.00 Q423.00,320.50 421.20,327.00 L409.20,327.00 Q407.40,320.50 409.20,314.00 Q407.40,308.25 409.20,302.50 Z" fill="url(#gC)" filter="url(#bl)"/>
<g filter="url(#bl)">
<rect x="304.50" y="314.20" width="7.00" height="1.40" fill="#888"/>
</g>
<g filter="url(#bl)">
<rect x="340.00" y="315.30" width="8.00" height="1.50" fill="#777"/>
</g>
<g filter="url(#bl)">
<rect x="375.50" y="314.60" width="9.00" height="1.20" fill="#444"/>
</g>
<g filter="url(#bl)">
<rect x="412.00" y="313.00" width="6.00" height="1.20" fill="#777"/>
</g>
<text x="430.00" y="320.90" font-size="12.2" font-weight="bold" text-anchor="start" fill="#000" textLength="30.00" lengthAdjust="spacingAndGlyphs"  stroke="#000" stroke-width="0.18">FLT3</text>
<rect x="276.80" y="376.10" width="152.50" height="18.10" fill="#151515"/>
<rect x="278.10" y="377.40" width="149.90" height="15.50" fill="#eeeeee"/>
<rect x="279.00" y="378.20" width="148.10" height="13.90" fill="#e8e8e8"/>
<rect x="281.60" y="379.50" width="16.20" height="9.70" rx="3" fill="#131313" filter="url(#bl3)"/>
<g filter="url(#bl3)">
<rect x="285.00" y="383.60" width="10.00" height="1.00" fill="#3a3a3a"/>
</g>
<rect x="300.20" y="379.50" width="16.00" height="9.70" rx="3" fill="#151515" filter="url(#bl3)"/>
<rect x="317.40" y="378.80" width="17.80" height="11.80" rx="3.5" fill="#0e0e0e" filter="url(#bl3)"/>
<rect x="337.80" y="381.60" width="14.60" height="3.00" rx="1.5" fill="#555" filter="url(#bl3)"/>
<rect x="337.80" y="385.20" width="14.60" height="3.60" rx="1.8" fill="#202020" filter="url(#bl3)"/>
<rect x="409.50" y="378.90" width="15.90" height="10.40" rx="3" fill="#111" filter="url(#bl3)"/>
<text x="433.00" y="390.10" font-size="12.2" font-weight="bold" text-anchor="start" fill="#000" textLength="43.20" lengthAdjust="spacingAndGlyphs"  stroke="#000" stroke-width="0.18">P-Stat5</text>
<rect x="276.80" y="397.20" width="152.50" height="17.80" fill="#151515"/>
<rect x="278.10" y="398.50" width="149.90" height="15.20" fill="#ebebeb"/>
<rect x="279.00" y="399.30" width="148.10" height="13.60" fill="#e2e2e2"/>
<rect x="281.60" y="400.00" width="16.20" height="10.80" rx="3.5" fill="#111" filter="url(#bl3)"/>
<rect x="300.40" y="400.80" width="15.80" height="4.20" rx="2" fill="#3a3a3a" filter="url(#bl3)"/>
<rect x="300.40" y="404.80" width="15.80" height="5.80" rx="2.5" fill="#151515" filter="url(#bl3)"/>
<rect x="317.40" y="400.60" width="17.40" height="10.20" rx="3" fill="#1a1a1a" filter="url(#bl3)"/>
<g filter="url(#bl3)">
<rect x="320.00" y="404.30" width="12.00" height="1.20" fill="#505050"/>
</g>
<rect x="337.40" y="400.60" width="15.60" height="10.20" rx="3" fill="#1c1c1c" filter="url(#bl3)"/>
<g filter="url(#bl3)">
<rect x="340.00" y="404.30" width="10.00" height="1.20" fill="#555"/>
</g>
<rect x="355.60" y="400.00" width="16.00" height="10.90" rx="3.5" fill="#101010" filter="url(#bl3)"/>
<rect x="374.00" y="400.80" width="15.20" height="9.80" rx="3" fill="#191919" filter="url(#bl3)"/>
<g filter="url(#bl3)">
<rect x="376.00" y="404.20" width="11.00" height="1.10" fill="#444"/>
</g>
<rect x="391.70" y="400.80" width="15.90" height="9.80" rx="3" fill="#1a1a1a" filter="url(#bl3)"/>
<g filter="url(#bl3)">
<rect x="394.00" y="404.20" width="11.00" height="1.10" fill="#4a4a4a"/>
</g>
<rect x="410.40" y="401.40" width="13.60" height="3.60" rx="1.5" fill="#7a7a7a" filter="url(#bl3)"/>
<rect x="410.40" y="404.40" width="13.60" height="3.80" rx="1.8" fill="#252525" filter="url(#bl3)"/>
<text x="433.00" y="411.90" font-size="12.2" font-weight="bold" text-anchor="start" fill="#000" textLength="30.00" lengthAdjust="spacingAndGlyphs"  stroke="#000" stroke-width="0.18">Stat5</text>
</svg>
</body></html>
